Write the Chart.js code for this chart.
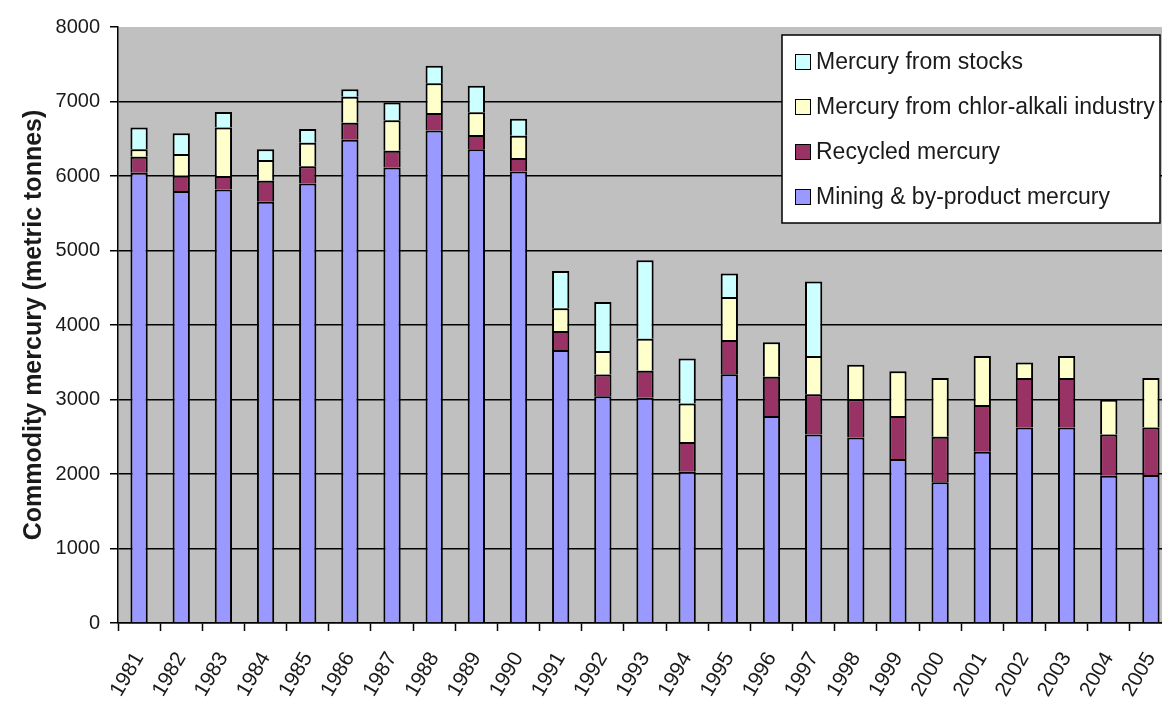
<!DOCTYPE html>
<html>
<head>
<meta charset="utf-8">
<title>Commodity mercury 1981-2005</title>
<script src="https://cdn.jsdelivr.net/npm/chart.js@4"></script>
<style>
    html, body { margin: 0; padding: 0; background: #fff; overflow: hidden; }
    .wrap { width: 1162px; height: 705px; overflow: hidden; }
</style>
</head>
<body>
<div class="wrap">
    <canvas id="chart" width="1180" height="705"></canvas>
</div>
<script>
const years = ["1981", "1982", "1983", "1984", "1985", "1986", "1987", "1988", "1989", "1990",
    "1991", "1992", "1993", "1994", "1995", "1996", "1997", "1998", "1999", "2000",
    "2001", "2002", "2003", "2004", "2005"];

// metric tonnes per source, stacked bottom to top
const mining = [6045, 5800, 5820, 5655, 5900, 6485, 6115, 6610, 6360, 6060,
    3665, 3045, 3025, 2030, 3340, 2780, 2530, 2490, 2200, 1890,
    2300, 2625, 2625, 1975, 1985];
const recycled = [215, 205, 180, 280, 230, 230, 225, 235, 190, 180,
    255, 290, 360, 400, 460, 525, 540, 515, 580, 610,
    625, 665, 665, 555, 640];
const chlorAlkali = [100, 290, 650, 280, 315, 350, 410, 400, 305, 300,
    305, 315, 430, 515, 575, 465, 515, 460, 600, 790,
    660, 205, 295, 465, 665];
const stocks = [290, 280, 210, 145, 185, 100, 235, 235, 355, 230,
    500, 660, 1055, 605, 315, null, 1000, null, null, null,
    null, null, null, null, null];

const yTicks = [0, 1000, 2000, 3000, 4000, 5000, 6000, 7000, 8000];

const textColor = "#1a1a1a";
const font = "'Liberation Sans', Arial, sans-serif";

// Gray plot background
const plotBackground = {
    id: "plotBackground",
    beforeDraw(chart) {
        const { ctx, chartArea: a } = chart;
        ctx.save();
        ctx.fillStyle = "#c0c0c0";
        ctx.fillRect(a.left, a.top, a.right - a.left, a.bottom - a.top);
        ctx.restore();
    },
};

// Boxed legend inside the plot, top series listed first
const boxLegend = {
    id: "boxLegend",
    afterDraw(chart) {
        const ctx = chart.ctx;
        const box = { x: 782, y: 35, w: 378, h: 188 };
        ctx.save();
        ctx.fillStyle = "#fff";
        ctx.fillRect(box.x, box.y, box.w, box.h);
        ctx.strokeStyle = "#000";
        ctx.lineWidth = 1.5;
        ctx.strokeRect(box.x, box.y, box.w, box.h);

        ctx.font = "23px " + font;
        ctx.textBaseline = "middle";
        ctx.textAlign = "left";
        const sets = [...chart.data.datasets].reverse();
        sets.forEach((ds, i) => {
            const cy = 61.5 + i * 45;
            ctx.fillStyle = ds.backgroundColor;
            ctx.fillRect(795, cy - 7.5, 15, 15);
            ctx.lineWidth = 1;
            ctx.strokeStyle = "#000";
            ctx.strokeRect(795.5, cy - 7, 15, 15);
            ctx.fillStyle = textColor;
            ctx.fillText(ds.label, 816, cy + 1);
        });
        ctx.restore();
    },
};

function series(label, data, color) {
    return {
        label: label,
        data: data,
        backgroundColor: color,
        borderColor: "#000",
        borderWidth: 2,
        borderSkipped: "start",
        categoryPercentage: 1,
        barPercentage: 0.41,
    };
}

new Chart(document.getElementById("chart"), {
    type: "bar",
    data: {
        labels: years,
        datasets: [
            series("Mining & by-product mercury", mining, "#9999ff"),
            series("Recycled mercury", recycled, "#993366"),
            series("Mercury from chlor-alkali industry", chlorAlkali, "#ffffcc"),
            series("Mercury from stocks", stocks, "#ccffff"),
        ],
    },
    options: {
        responsive: false,
        animation: false,
        devicePixelRatio: 1,
        layout: { padding: { left: 0, top: 27, right: 8, bottom: 0 } },
        plugins: {
            legend: { display: false },
            tooltip: { enabled: false },
        },
        scales: {
            x: {
                stacked: true,
                offset: true,
                grid: {
                    offset: true,
                    drawOnChartArea: false,
                    tickLength: 8,
                    tickColor: "#000",
                    tickWidth: 1.5,
                },
                border: { display: true, color: "#000", width: 1.5 },
                ticks: {
                    autoSkip: false,
                    minRotation: 60,
                    maxRotation: 60,
                    padding: 17,
                    color: textColor,
                    font: { family: font, size: 21 },
                },
                afterFit(scale) {
                    scale.height = 82;
                    scale.paddingLeft = 0;
                    scale.paddingRight = 0;
                },
            },
            y: {
                stacked: true,
                min: 0,
                max: 8000,
                afterBuildTicks(scale) {
                    scale.ticks = yTicks.map((v) => ({ value: v }));
                },
                grid: {
                    color: (c) => (c.tick && c.tick.value === 8000 ? "rgba(0,0,0,0)" : "#000"),
                    lineWidth: 1.5,
                    tickLength: 8,
                    tickColor: "#000",
                    tickWidth: 1.5,
                },
                border: { display: true, color: "#000", width: 1.5 },
                ticks: {
                    padding: 10,
                    color: textColor,
                    font: { family: font, size: 20 },
                    callback: (v) => String(v),
                },
                title: {
                    display: true,
                    text: "Commodity mercury (metric tonnes)",
                    color: textColor,
                    font: { family: font, size: 25, weight: "bold" },
                    padding: { top: 19, bottom: 0 },
                },
                afterFit(scale) {
                    scale.width = 118;
                    scale.paddingTop = 0;
                    scale.paddingBottom = 0;
                },
            },
        },
    },
    plugins: [plotBackground, boxLegend],
});
</script>
</body>
</html>
